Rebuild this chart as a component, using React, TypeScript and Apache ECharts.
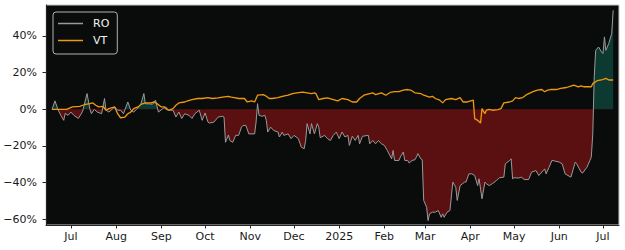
import React, { useEffect, useRef } from "react";
import * as echarts from "echarts";

// Day offsets are counted from 2024-07-01; values are % change.
const roPoints: [number, number][] = [
  [-13, 0], [-11, 4.6], [-9, 0], [-7, -3.3], [-5, -6], [-4, -2.2], [-2, -3.3], [0, -1.5], [2, -3.3], [5, -5],
  [7, -2.5], [8, -1], [11, 8.6], [13, 0], [14, -2.4], [16, 0], [18, -1.5], [21, -2.4], [23, 5.9], [24, -0.5],
  [26, -1.5], [30, 1.3], [32, -0.5], [34, -0.5], [36, -2.4], [39, 4], [41, -0.5], [43, -1.5], [45, 0], [48, 3],
  [50, 8.6], [51, 3], [53, 3], [56, 2.8], [58, 5], [60, -1.5], [63, 0.4], [65, 1.3], [67, -0.5], [70, -0.5],
  [72, -4.2], [74, -1.5], [76, -5], [78, -2.4], [81, -3.3], [83, -5], [85, -2.4], [88, -0.5], [90, -6], [92, -2],
  [94, -7], [95, -7.5], [98, -7], [101, -4.2], [104, -3.8], [105, -4.2], [106, -18], [108, -14], [109, -17], [111, -18],
  [113, -14.2], [115, -14.2], [117, -9.7], [118, -8.8], [120, -8.8], [122, -13.4], [126, -13.4], [127, -6.9], [128, 3.1], [129, -3.3],
  [131, -3.8], [133, -3.3], [134, -6], [135, -12.4], [137, -9.7], [139, -11.5], [142, -12.4], [143, -15.1], [145, -12.4], [146, -14.2],
  [149, -13.4], [151, -16], [153, -14.2], [156, -16], [158, -20.6], [160, -21.5], [161, -17], [162, -7.8], [164, -13.4], [165, -7.8],
  [167, -13.4], [169, -7.8], [170, -9.7], [171, -15.5], [174, -14.2], [176, -16], [178, -17], [180, -14.2], [182, -12.4], [184, -16],
  [186, -12.4], [188, -15.1], [190, -14.2], [191, -19.7], [193, -14.7], [195, -17], [197, -14.2], [198, -18.8], [200, -14.7], [204, -14.2],
  [205, -18.8], [207, -17], [209, -18.8], [211, -17], [213, -18.8], [215, -19.7], [217, -22.4], [220, -27], [221, -22.4], [222, -27.9],
  [225, -27.9], [226, -26], [228, -23.3], [229, -27.9], [231, -27.9], [232, -29.3], [234, -27.9], [236, -27.5], [237, -26], [238, -24.2],
  [240, -27], [241, -27.5], [242, -49.7], [244, -53.4], [245, -60.7], [246, -57], [248, -56.1], [250, -56.1], [252, -55.2], [254, -58.9],
  [255, -57], [256, -58.9], [258, -56.1], [260, -55.2], [262, -39.7], [264, -42.5], [265, -49.7], [267, -41.6], [270, -39.7], [271, -39.7],
  [273, -35.2], [275, -35.2], [277, -36.1], [279, -41.6], [280, -37.9], [282, -48.8], [284, -39.7], [285, -40.6], [287, -41.6], [289, -40.6],
  [292, -38.8], [294, -37.3], [297, -37], [298, -29.7], [301, -27.9], [302, -27], [303, -37.9], [304, -37.3], [307, -37.5], [309, -37],
  [311, -38.3], [314, -38.3], [316, -34.3], [319, -33.4], [321, -36.1], [322, -35.2], [325, -32.5], [326, -35.2], [328, -31.6], [330, -27.9],
  [332, -28.2], [335, -28.8], [337, -29.7], [339, -35.2], [341, -36.1], [343, -37], [346, -28.8], [347, -29.7], [350, -34.3], [351, -34.8],
  [354, -31.6], [356, -28], [357, -26], [358, -13.4], [359, 17.7], [360, 32.2], [362, 34], [364, 31.3], [365, 30.4], [366, 39.5],
  [367, 32.2], [369, 35.9], [371, 41.4], [372, 54],
];

const vtPoints: [number, number][] = [
  [-13, 0], [-3, 0], [1, 1.3], [6, 1.6], [9, 2.5], [13, 3.1], [15, 3.5], [17, 2.2], [19, 1.3], [22, 1.6],
  [24, -0.5], [26, 0.4], [30, 1.3], [32, -2.4], [34, -4.6], [37, -4.2], [39, -2.4], [41, -1.5], [43, 0.4], [46, 1.3],
  [48, 2.7], [51, 3.5], [55, 3.5], [57, 4], [59, 3.1], [62, 1.3], [64, 1.3], [66, -0.2], [67, -0.5], [70, 0.4],
  [72, 2.2], [74, 3.5], [78, 4], [80, 4.6], [83, 5.3], [87, 5.9], [90, 5.9], [94, 6.4], [97, 5.9], [101, 6.2],
  [104, 6.7], [108, 7.1], [110, 6.7], [112, 6.4], [115, 5.9], [119, 5.9], [121, 4], [124, 4.6], [126, 4], [128, 7.7],
  [132, 8], [134, 7.1], [136, 5.9], [138, 5.9], [142, 6.4], [145, 7.1], [149, 7.8], [152, 8.6], [155, 9], [159, 9.4],
  [162, 9], [165, 8.6], [167, 9], [168, 8.6], [170, 5.3], [173, 5.9], [176, 6.2], [180, 5.3], [183, 4.6], [186, 5.9],
  [190, 5.3], [193, 4], [196, 4], [198, 5.9], [201, 7.7], [205, 8.6], [207, 9], [209, 8], [213, 9], [216, 7.7],
  [219, 9.2], [222, 9.6], [225, 9.6], [228, 10.5], [231, 10.8], [233, 10.5], [236, 9], [240, 8.6], [242, 7.7], [246, 6.7],
  [248, 7.1], [250, 5.9], [253, 5], [255, 3.5], [257, 5.3], [261, 5.9], [264, 5.3], [267, 6.4], [269, 4], [272, 4],
  [276, 5], [277, -5.1], [279, -6], [281, -7.5], [282, 0.4], [284, -2.4], [285, -0.5], [287, 0], [289, -0.5], [293, -0.2],
  [295, 0.4], [297, 3.5], [301, 4], [303, 4.6], [305, 6.4], [307, 5.9], [310, 6.4], [313, 8.2], [317, 9.6], [320, 10.5],
  [323, 10.8], [325, 9.6], [327, 10.5], [329, 10.8], [333, 10.8], [336, 11.4], [340, 11.9], [343, 12.7], [345, 13.2], [348, 12.2],
  [350, 12.8], [352, 12.3], [357, 12.3], [358, 14], [361, 15.6], [364, 16], [367, 16.9], [369, 16], [372, 16],
];

const yTicks = [-60, -40, -20, 0, 20, 40];
const xTickMonths: [number, number][] = [
  [2024, 6], [2024, 7], [2024, 8], [2024, 9], [2024, 10], [2024, 11],
  [2025, 0], [2025, 1], [2025, 2], [2025, 3], [2025, 4], [2025, 5], [2025, 6],
];
const monthNames = ["Jan", "Feb", "Mar", "Apr", "May", "Jun", "Jul", "Aug", "Sep", "Oct", "Nov", "Dec"];
const seriesNames = ["RO", "VT"];

const BASE_MS = new Date(2024, 6, 1).getTime();
const DAY_MS = 86400000;
const dayToTime = (d: number) => BASE_MS + d * DAY_MS;

const GAIN_COLOR = "#0c3a30";
const LOSS_COLOR = "#5a1010";

export default function App() {
  const ref = useRef<HTMLDivElement>(null);

  useEffect(() => {
    if (!ref.current) return;
    const chart = echarts.init(ref.current, undefined, { renderer: "svg" });
    const roData = roPoints.map(([d, v]) => [dayToTime(d), v]);
    const vtData = vtPoints.map(([d, v]) => [dayToTime(d), v]);
    const xTicks = xTickMonths.map(([y, m]) => new Date(y, m, 1).getTime());
    const font = "DejaVu Sans";

    // Area polygon bbox spans from max(values, 0) down to min(values, 0);
    // split the gradient exactly at zero.
    const vals = roPoints.map((p) => p[1]);
    const hi = Math.max(0, ...vals);
    const lo = Math.min(0, ...vals);
    const zeroOff = (hi - 0) / (hi - lo);
    const fill = new echarts.graphic.LinearGradient(0, 0, 0, 1, [
      { offset: 0, color: GAIN_COLOR },
      { offset: zeroOff, color: GAIN_COLOR },
      { offset: zeroOff, color: LOSS_COLOR },
      { offset: 1, color: LOSS_COLOR },
    ]);

    chart.setOption({
      animation: false,
      backgroundColor: "#ffffff",
      textStyle: { fontFamily: font },
      grid: {
        left: 46,
        right: 6,
        top: 5,
        bottom: 25,
        show: true,
        backgroundColor: "#0a0c0c",
        borderColor: "#c8c8c8",
        borderWidth: 1,
      },
      legend: {
        left: 53,
        top: 12,
        orient: "vertical",
        data: seriesNames,
        icon: "rect",
        itemWidth: 25,
        itemHeight: 1.5,
        itemGap: 6,
        padding: [6, 8, 8, 5],
        backgroundColor: "#0a0c0c",
        borderColor: "#b0b0b0",
        borderWidth: 1,
        borderRadius: 3,
        textStyle: { color: "#f2f2f2", fontSize: 11, fontFamily: font, padding: [0, 0, 0, 5] },
      },
      xAxis: {
        type: "value",
        min: dayToTime(-17.15),
        max: dayToTime(376),
        splitLine: { show: false },
        axisLine: { onZero: false, lineStyle: { color: "#262626", width: 1 } },
        axisTick: { show: true, length: 3.5, customValues: xTicks, lineStyle: { color: "#262626" } },
        axisLabel: {
          customValues: xTicks,
          color: "#1a1a1a",
          fontSize: 11,
          fontFamily: font,
          margin: 6,
          formatter: (v: number) => {
            const d = new Date(v);
            return d.getMonth() === 0 ? String(d.getFullYear()) : monthNames[d.getMonth()];
          },
        },
      },
      yAxis: {
        type: "value",
        min: -63.1,
        max: 56.9,
        splitLine: { show: false },
        axisLine: { show: true, lineStyle: { color: "#262626", width: 1 } },
        axisTick: { show: true, length: 3.5, customValues: yTicks, lineStyle: { color: "#262626" } },
        axisLabel: {
          customValues: yTicks,
          color: "#1a1a1a",
          fontSize: 11,
          fontFamily: font,
          margin: 9,
          formatter: (v: number) => (v < 0 ? "\u2212" + Math.abs(v) : String(v)) + "%",
        },
      },
      series: [
        {
          name: "RO fill",
          type: "line",
          data: roData,
          symbol: "none",
          showSymbol: false,
          silent: true,
          lineStyle: { width: 0, opacity: 0 },
          areaStyle: { opacity: 1, origin: "auto", color: fill },
          z: 1,
        },
        {
          name: "RO",
          type: "line",
          data: roData,
          symbol: "none",
          showSymbol: false,
          color: "#9a9a9a",
          itemStyle: { color: "#9a9a9a" },
          lineStyle: { color: "#9a9a9a", width: 1 },
          z: 2,
        },
        {
          name: "VT",
          type: "line",
          data: vtData,
          symbol: "none",
          showSymbol: false,
          color: "#f0990f",
          itemStyle: { color: "#f0990f" },
          lineStyle: { color: "#f0990f", width: 1.3 },
          z: 3,
        },
      ],
    });

    return () => chart.dispose();
  }, []);

  return (
    <div
      ref={ref}
      style={{ position: "absolute", left: 0, top: 0, width: 625, height: 250, background: "#fff" }}
    />
  );
}
